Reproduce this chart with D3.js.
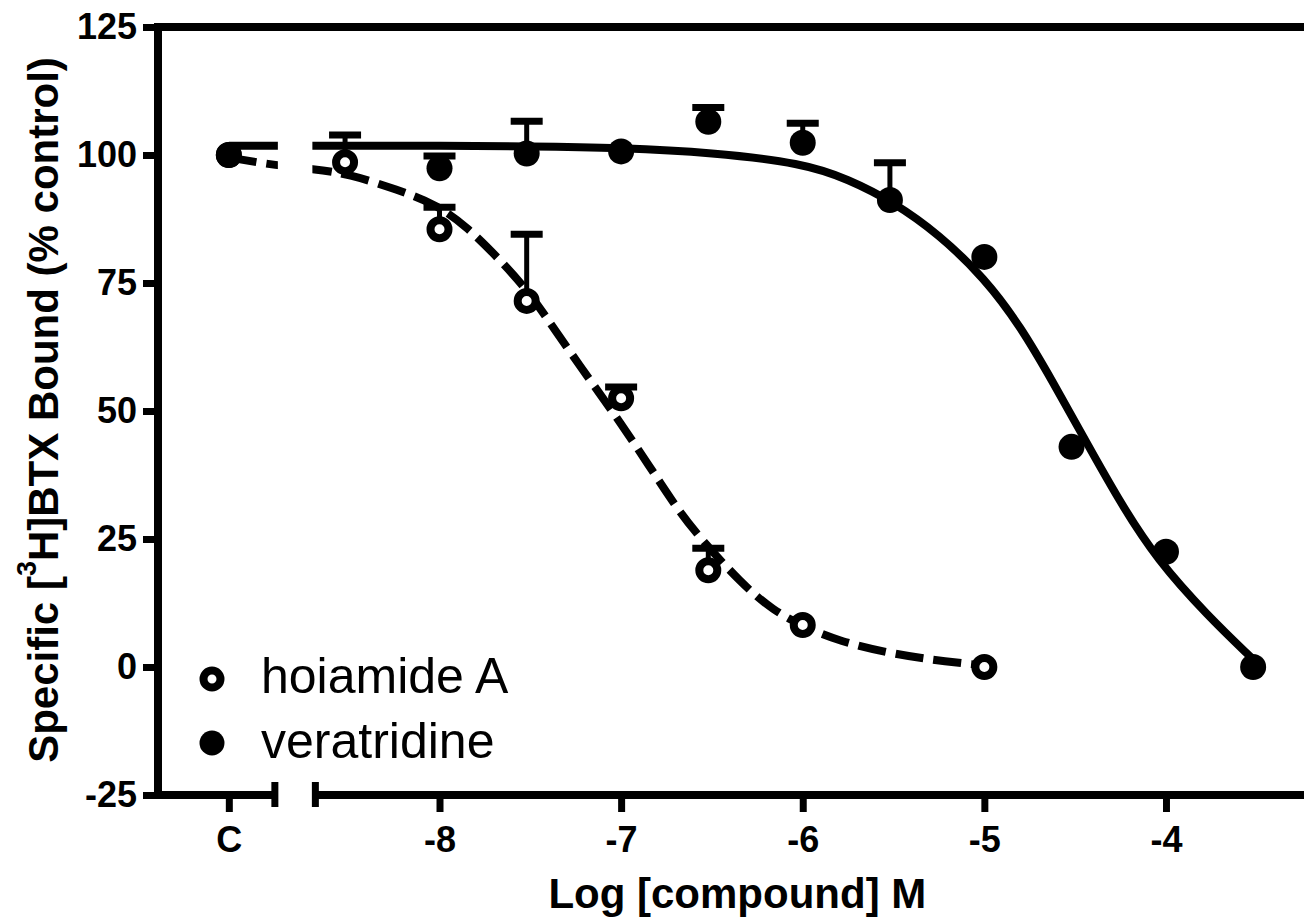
<!DOCTYPE html>
<html>
<head>
<meta charset="utf-8">
<script src="https://cdn.jsdelivr.net/npm/d3@7"></script>
<style>
  body { margin: 0; background: #fff; }
  svg { display: block; font-family: "Liberation Sans", Arial, sans-serif; }
  .axis text { font-size: 36px; font-weight: bold; fill: #000; }
  .axis line { stroke: #000; stroke-width: 7; }
</style>
</head>
<body>
<svg width="1304" height="918"></svg>
<script>
// control ("C") is drawn left of the axis break, on the same log scale
const controlPos = -9.16;
const axisBreak = [-8.89, -8.70];
const xTicks = [controlPos, -8, -7, -6, -5, -4];
const yTicks = [-25, 0, 25, 50, 75, 100, 125];

// hoiamide A (open circles, dashed fit)
const hoiLog = [controlPos, -8.52, -8, -7.52, -7, -6.52, -6, -5];
const hoiMean = [100, 98.6, 85.5, 71.5, 52.5, 18.9, 8.2, 0];
const hoiSem = [0, 5.3, 4.3, 13, 2.2, 4.3, 0, 0];
const hoiFit = [
  [controlPos, 99.5], [-8.89, 97.9], [-8.7, 97.3], [-8.5, 96.3], [-8.23, 93.2],
  [-8.02, 90.4], [-7.85, 86], [-7.68, 80], [-7.5, 73], [-7.36, 65.5],
  [-7.17, 56], [-7.0, 47.5], [-6.84, 39], [-6.73, 33], [-6.6, 26.5],
  [-6.33, 16], [-6.16, 11], [-6.0, 8], [-5.8, 5], [-5.5, 2.5], [-5.2, 1], [-5.0, 0.3]
];

// veratridine (filled circles, solid fit)
const verLog = [controlPos, -8, -7.52, -7, -6.52, -6, -5.52, -5, -4.52, -4, -3.52];
const verMean = [100, 97.4, 100.3, 100.7, 106.5, 102.4, 91.2, 80.1, 43, 22.5, 0];
const verSem = [0, 2.4, 6.3, 0, 2.8, 3.8, 7.3, 0, 0, 0, 0];
const verFit = [
  [controlPos, 101.8], [-8.5, 101.8], [-8, 101.8], [-7.5, 101.7], [-7, 101.4],
  [-6.5, 100.5], [-6.0, 98.4], [-5.75, 95.3], [-5.5, 90.8], [-5.25, 84.5],
  [-5.0, 76], [-4.8, 66.5], [-4.62, 55.5], [-4.44, 44], [-4.25, 32],
  [-4.05, 21], [-3.77, 10], [-3.52, 1.5]
];

const svg = d3.select("svg");
const width = +svg.attr("width");

const x = d3.scaleLinear().domain([-9.55, -3.24]).range([158, width]);
const y = d3.scaleLinear().domain([-25, 125]).range([795, 27]);

const x0 = x.range()[0];
const yBottom = y(-25);
const yTop = y(125);

// clip the fitted curves so they disappear in the axis break
const clip = svg.append("defs").append("clipPath").attr("id", "plot-clip");
clip.append("rect")
  .attr("x", x0).attr("y", 0)
  .attr("width", x(axisBreak[0]) - x0).attr("height", yBottom);
clip.append("rect")
  .attr("x", x(axisBreak[1])).attr("y", 0)
  .attr("width", width - x(axisBreak[1])).attr("height", yBottom);

// y axis
svg.append("g")
  .attr("class", "axis axis--y")
  .attr("transform", `translate(${x0},0)`)
  .call(d3.axisLeft(y).tickValues(yTicks).tickSize(15).tickPadding(6).tickFormat(d => String(d)))
  .call(g => g.select(".domain").remove());

// x axis, ticks only - the broken line is drawn below
svg.append("g")
  .attr("class", "axis axis--x")
  .attr("transform", `translate(0,${yBottom})`)
  .call(d3.axisBottom(x).tickValues(xTicks).tickSize(17).tickPadding(14)
    .tickFormat(d => d === controlPos ? "C" : String(d)))
  .call(g => g.select(".domain").remove());

const frame = svg.append("g")
  .attr("stroke", "#000")
  .attr("stroke-width", 8)
  .attr("fill", "none");

frame.append("line")
  .attr("x1", x0).attr("x2", x0)
  .attr("y1", yTop - 4).attr("y2", yBottom + 4);
frame.append("line")
  .attr("x1", x0 - 4).attr("x2", width)
  .attr("y1", yTop).attr("y2", yTop);
frame.append("line")
  .attr("x1", x0 - 4).attr("x2", x(axisBreak[0]))
  .attr("y1", yBottom).attr("y2", yBottom);
frame.append("line")
  .attr("x1", x(axisBreak[1])).attr("x2", width)
  .attr("y1", yBottom).attr("y2", yBottom);

// break caps
frame.selectAll(".cap")
  .data([x(axisBreak[0]) - 3, x(axisBreak[1]) + 3])
  .enter().append("line")
    .attr("class", "cap")
    .attr("stroke-width", 7)
    .attr("x1", d => d).attr("x2", d => d)
    .attr("y1", yBottom - 13).attr("y2", yBottom + 12);

// axis titles
svg.append("text")
  .attr("x", x(-6.36))
  .attr("y", 908)
  .attr("text-anchor", "middle")
  .style("font-size", "42px")
  .style("font-weight", "bold")
  .text("Log [compound] M");

const yTitle = svg.append("text")
  .attr("transform", `translate(58,${y(50) - 1}) rotate(-90)`)
  .attr("text-anchor", "middle")
  .style("font-size", "42px")
  .style("font-weight", "bold");
yTitle.append("tspan").text("Specific [");
yTitle.append("tspan").attr("dy", -22).style("font-size", "27px").text("3");
yTitle.append("tspan").attr("dy", 22).text("H]BTX Bound (% control)");

// fitted curves
const line = d3.line()
  .x(d => x(d[0]))
  .y(d => y(d[1]))
  .curve(d3.curveBasis);

const curves = svg.append("g").attr("clip-path", "url(#plot-clip)");

curves.append("path")
  .datum(hoiFit)
  .attr("fill", "none")
  .attr("stroke", "#000")
  .attr("stroke-width", 8)
  .attr("stroke-dasharray", "28,10")
  .attr("d", line);

curves.append("path")
  .datum(verFit)
  .attr("fill", "none")
  .attr("stroke", "#000")
  .attr("stroke-width", 8)
  .attr("d", line);

const hoiData = hoiLog.map((d, i) => ({ log: d, mean: hoiMean[i], sem: hoiSem[i] }));
const verData = verLog.map((d, i) => ({ log: d, mean: verMean[i], sem: verSem[i] }));

// upward error bars with caps
function drawErrors(data) {
  const bars = svg.append("g")
    .attr("stroke", "#000")
    .selectAll("g")
    .data(data.filter(d => d.sem > 0))
    .enter().append("g");

  bars.append("line")
    .attr("stroke-width", 5)
    .attr("x1", d => x(d.log)).attr("x2", d => x(d.log))
    .attr("y1", d => y(d.mean)).attr("y2", d => y(d.mean + d.sem));

  bars.append("line")
    .attr("stroke-width", 7)
    .attr("x1", d => x(d.log) - 16).attr("x2", d => x(d.log) + 16)
    .attr("y1", d => y(d.mean + d.sem)).attr("y2", d => y(d.mean + d.sem));
}

drawErrors(hoiData);
drawErrors(verData);

svg.append("g")
  .selectAll("circle")
  .data(hoiData)
  .enter().append("circle")
    .attr("cx", d => x(d.log))
    .attr("cy", d => y(d.mean))
    .attr("r", 9)
    .attr("fill", "#fff")
    .attr("stroke", "#000")
    .attr("stroke-width", 8);

svg.append("g")
  .selectAll("circle")
  .data(verData)
  .enter().append("circle")
    .attr("cx", d => x(d.log))
    .attr("cy", d => y(d.mean))
    .attr("r", 13)
    .attr("fill", "#000");

// legend
const legend = svg.append("g").attr("transform", "translate(212,679)");

legend.append("circle")
  .attr("r", 8.5)
  .attr("fill", "#fff")
  .attr("stroke", "#000")
  .attr("stroke-width", 8);
legend.append("circle")
  .attr("cy", 64)
  .attr("r", 12.5)
  .attr("fill", "#000");

legend.selectAll("text")
  .data(["hoiamide A", "veratridine"])
  .enter().append("text")
    .attr("x", 49)
    .attr("y", (d, i) => 14 + i * 65)
    .style("font-size", "50px")
    .text(d => d);
</script>
</body>
</html>
